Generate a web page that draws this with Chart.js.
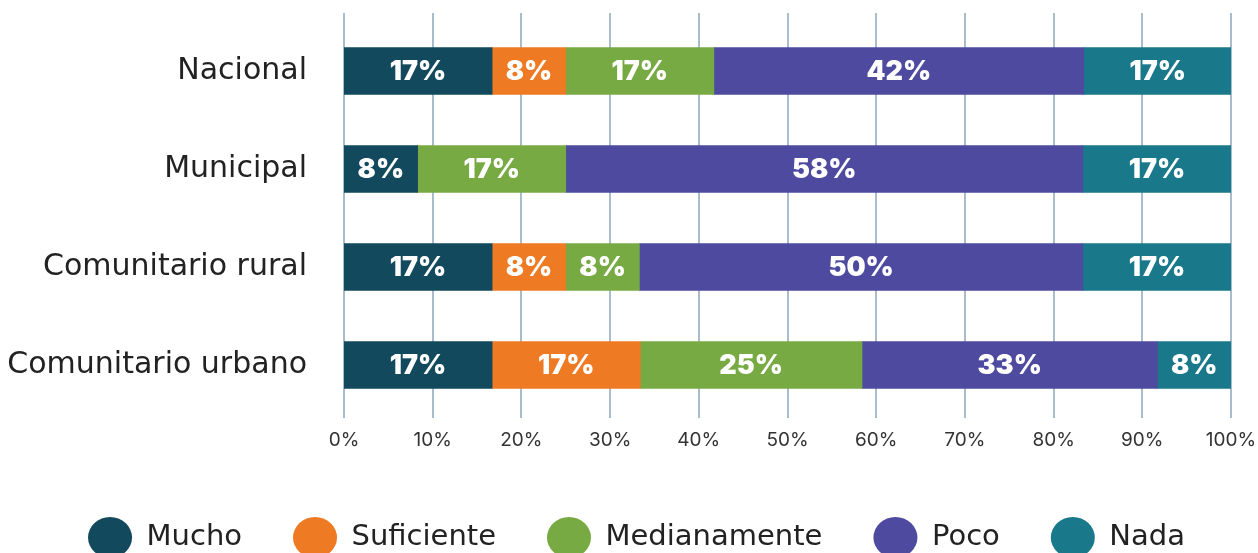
<!DOCTYPE html>
<html>
<head>
<meta charset="utf-8">
<script src="https://cdn.jsdelivr.net/npm/chart.js@4"></script>
<style>
  html, body { margin: 0; padding: 0; background: #fff; overflow: hidden; }
  #wrap { width: 1258px; height: 562px; position: relative; }
</style>
</head>
<body>
<div id="wrap"><canvas id="levelChart"></canvas></div>
<script>
// categories and series (percent of answers)
const categories = ['Nacional', 'Municipal', 'Comunitario rural', 'Comunitario urbano'];
const mucho = [16.7, 8.3, 16.7, 16.7];
const suficiente = [8.3, 0, 8.3, 16.7];
const medianamente = [16.7, 16.7, 8.3, 25];
const poco = [41.7, 58.3, 50, 33.3];
const nada = [16.7, 16.7, 16.7, 8.3];
const xTicks = [0, 10, 20, 30, 40, 50, 60, 70, 80, 90, 100];

const gridColor = '#a9bccb';
const fontFamily = "'Inter', 'Noto Sans', sans-serif";
const labelFamily = "'DejaVu Sans', 'Inter', sans-serif";

// vertical grid lines, a bit longer than the plot area
const gridPlugin = {
    id: 'longGrid',
    beforeDatasetsDraw(chart) {
        const { ctx, chartArea, scales } = chart;
        ctx.save();
        ctx.strokeStyle = gridColor;
        ctx.lineWidth = 2;
        scales.x.ticks.forEach(t => {
            const x = Math.round(scales.x.getPixelForValue(t.value));
            ctx.beginPath();
            ctx.moveTo(x, chartArea.top - 9);
            ctx.lineTo(x, chartArea.bottom + 4);
            ctx.stroke();
        });
        ctx.restore();
    }
};

// legend sits a little right of the centre in the original
const legendShift = {
    id: 'legendShift',
    afterLayout(chart) {
        if (chart.legend) {
            chart.legend.left += 21;
            chart.legend.right += 21;
        }
    }
};

// white percentage labels inside each segment
const valueLabels = {
    id: 'valueLabels',
    afterDatasetsDraw(chart) {
        const { ctx } = chart;
        ctx.save();
        ctx.fillStyle = '#ffffff';
        ctx.font = "900 27px " + fontFamily;
        ctx.textAlign = 'center';
        ctx.textBaseline = 'middle';
        chart.data.datasets.forEach((ds, i) => {
            chart.getDatasetMeta(i).data.forEach((bar, j) => {
                const v = ds.data[j];
                if (!v) return;
                const c = bar.getCenterPoint();
                ctx.fillText(Math.round(v) + '%', c.x, c.y + 1);
            });
        });
        ctx.restore();
    }
};

function makeSet(label, data, color) {
    return { label, data, backgroundColor: color, borderWidth: 0, barThickness: 47 };
}

const ctx = document.getElementById('levelChart').getContext('2d');
new Chart(ctx, {
    type: 'bar',
    data: {
        labels: categories,
        datasets: [
            makeSet('Mucho', mucho, '#12495d'),
            makeSet('Suficiente', suficiente, '#ee7a23'),
            makeSet('Medianamente', medianamente, '#78aa43'),
            makeSet('Poco', poco, '#4e4a9f'),
            makeSet('Nada', nada, '#19788a')
        ]
    },
    options: {
        indexAxis: 'y',
        responsive: true,
        maintainAspectRatio: false,
        animation: false,
        layout: { padding: { top: 22, right: 27, left: 0, bottom: 0 } },
        scales: {
            x: {
                stacked: true,
                min: 0,
                max: 100,
                afterBuildTicks: s => { s.ticks = xTicks.map(v => ({ value: v })); },
                grid: { display: false },
                border: { display: false },
                ticks: {
                    padding: 7,
                    color: '#333333',
                    font: { family: fontFamily, size: 19 },
                    callback: v => v + '%'
                },
                afterFit: s => {
                    s.height = 58;
                    s.paddingLeft = 0;
                    s.paddingRight = 0;
                }
            },
            y: {
                stacked: true,
                grid: { display: false },
                border: { display: false },
                ticks: {
                    padding: 29,
                    color: '#222222',
                    font: { family: labelFamily, size: 30 }
                },
                afterFit: s => {
                    s.width = 344;
                    s.paddingTop = 0;
                    s.paddingBottom = 0;
                }
            }
        },
        plugins: {
            tooltip: { enabled: false },
            legend: {
                position: 'bottom',
                labels: {
                    usePointStyle: true,
                    pointStyle: 'circle',
                    pointStyleWidth: 44,
                    padding: 51,
                    color: '#222222',
                    font: { family: labelFamily, size: 29 }
                }
            }
        }
    },
    plugins: [gridPlugin, legendShift, valueLabels]
});
</script>
</body>
</html>
